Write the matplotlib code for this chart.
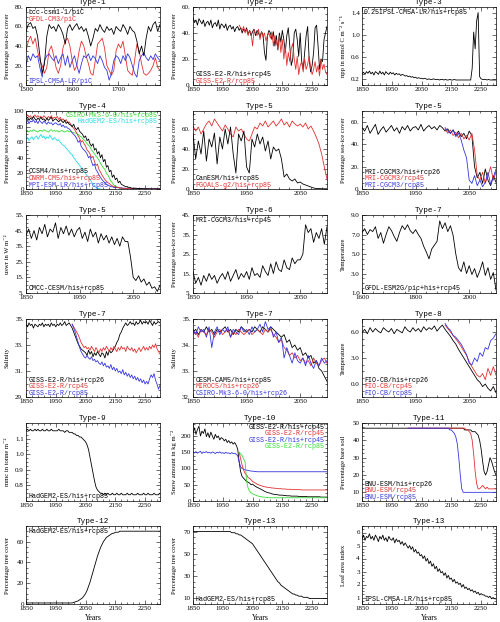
import numpy as np
import matplotlib.pyplot as plt
from matplotlib.ticker import AutoMinorLocator

plt.rcParams['font.family'] = ['Liberation Serif', 'DejaVu Serif']
MONO = ['Liberation Mono', 'DejaVu Sans Mono']

BLACK = '#000000'
RED = '#e23030'
BLUE = '#3535e0'
GREEN = '#33dd33'
CYAN = '#22dde8'

# ---------------- data ----------------
# Type-1 (piC, 1500-1790, 5-yearly)
t1_bcc = [55, 62, 64, 58, 60, 50, 30, 12, 22, 50, 62, 58, 60, 55, 62, 58, 52, 42, 58, 62,
          56, 60, 63, 57, 60, 55, 58, 50, 40, 48, 58, 55, 62, 57, 54, 60, 56, 58, 52, 60,
          57, 55, 62, 58, 52, 60, 56, 54, 45, 32, 40, 30, 48, 60, 55, 62, 65, 55, 62]
t1_gfdl = [35, 45, 50, 42, 48, 35, 25, 20, 12, 18, 35, 40, 30, 18, 12, 20, 38, 45, 48, 40,
           25, 15, 20, 35, 45, 40, 30, 22, 12, 10, 25, 42, 45, 48, 38, 20, 15, 10, 15, 35,
           42, 38, 45, 30, 15, 12, 10, 25, 42, 35, 22, 12, 10, 12, 15, 20, 28, 18, 15]
t1_ipsl = [20, 30, 25, 32, 28, 30, 18, 8, 25, 30, 32, 28, 25, 30, 22, 28, 32, 20, 30, 18,
           25, 30, 20, 12, 22, 30, 28, 32, 25, 30, 27, 22, 30, 25, 18, 15, 5, 12, 25, 30,
           28, 22, 30, 25, 32, 28, 20, 12, 8, 25, 30, 33, 28, 25, 30, 26, 32, 28, 25]

# Type-2 GISS-E2-R (1850-2300 / 2005-2300, 5-yearly)
t2_his45 = [52, 48, 50, 46, 51, 49, 47, 50, 45, 48,
            49, 46, 50, 44, 47, 48, 45, 50, 43, 47,
            46, 44, 47, 42, 45, 46, 43, 45, 41, 44,
            45, 42, 44, 40, 43, 41, 44, 39, 42, 38,
            41, 43, 38, 42, 40, 37, 41, 39, 25, 19,
            38, 42, 40, 35, 41, 30, 38, 27, 40, 33,
            42, 35, 25, 38, 44, 30, 15, 20, 40, 43,
            35, 22, 40, 18, 12, 25, 38, 45, 20, 10,
            15, 25, 44, 46, 30, 12, 20, 18, 35, 40, 45]
t2_rcp85 = [46, 44, 42, 45, 40, 43, 38, 42, 40, 30,
            42, 40, 38, 43, 35, 41, 37, 40, 34, 38,
            40, 36, 41, 30, 38, 33, 28, 38, 25, 35,
            20, 30, 15, 25, 18, 28, 32, 20, 12, 22,
            8, 15, 18, 10, 20, 12, 16, 22, 14, 8,
            12, 18, 10, 15, 7, 20, 12, 16, 10, 8]

# Type-3 IPSL npp (1850-2300)
t3_npp = [0.30, 0.33, 0.29, 0.34, 0.31, 0.35, 0.30, 0.33, 0.28, 0.34,
          0.32, 0.29, 0.35, 0.30, 0.33, 0.28, 0.34, 0.31, 0.29, 0.33,
          0.30, 0.32, 0.28, 0.31, 0.29, 0.30, 0.27, 0.29, 0.28, 0.26,
          0.27, 0.25, 0.26, 0.24, 0.25, 0.23, 0.24, 0.22, 0.23, 0.22,
          0.22, 0.21, 0.22, 0.21, 0.20, 0.21, 0.20, 0.20, 0.21, 0.20,
          0.20, 0.20, 0.19, 0.20, 0.20, 0.19, 0.20, 0.19, 0.19, 0.20,
          0.19, 0.19, 0.20, 0.19, 0.19, 0.19, 0.19, 0.19, 0.19, 0.19,
          0.19, 0.19, 0.19, 0.19, 0.40, 1.05, 0.75, 1.25, 1.40, 0.25,
          0.21, 0.20, 0.20, 0.20, 0.19, 0.20, 0.19, 0.19, 0.19, 0.19, 0.19]

# Type-4 (1850-2300)
t4_ccsm4 = [90, 92, 88, 91, 89, 93, 90, 88, 91, 89,
            92, 89, 90, 87, 91, 88, 90, 92, 87, 89,
            90, 88, 86, 89, 87, 85, 88, 84, 86, 83,
            82, 80, 83, 78, 76, 79, 74, 72, 70, 66,
            68, 62, 64, 58, 55, 58, 50, 52, 45, 48,
            40, 44, 35, 38, 28, 30, 22, 24, 15, 18,
            12, 14, 8, 10, 6, 5, 4, 3, 3, 2,
            2, 1, 1, 1, 1, 0.5, 0.5, 0.5, 0.3, 0.3,
            0.2, 0.2, 0.1, 0.1, 0.1, 0, 0, 0, 0, 0, 0]
t4_cnrm = [93, 95, 92, 94, 91, 93, 95, 92, 94, 92,
           93, 91, 94, 92, 90, 93, 91, 94, 90, 92,
           91, 93, 89, 92, 88, 90, 87, 89, 85, 86,
           83, 80, 78, 75, 72, 68, 65, 60, 62, 58,
           55, 50, 48, 45, 40, 42, 35, 30, 32, 25,
           22, 18, 15, 12, 10, 8, 7, 5, 4, 3,
           3, 2, 2, 1, 1, 1, 1, 0.5, 0.5, 0.5,
           0.3, 0.3, 0.3, 0.2, 0.2, 0.2, 0.1, 0.1, 0.1, 0.1,
           0.1, 0, 0, 0, 0, 0, 0, 0, 0, 0, 0]
t4_mpi = [85, 88, 84, 87, 86, 89, 85, 87, 84, 88,
          86, 84, 87, 85, 83, 86, 84, 85, 82, 84,
          85, 83, 82, 84, 80, 82, 79, 80, 78, 77,
          75, 72, 70, 68, 65, 60, 62, 55, 52, 50,
          48, 45, 40, 42, 35, 30, 32, 25, 22, 18,
          15, 12, 10, 8, 6, 5, 4, 3, 3, 2,
          2, 2, 2, 1.5, 1.5, 1, 1, 1, 1, 1,
          1, 0.8, 0.8, 0.8, 0.7, 0.7, 0.6, 0.6, 0.6, 0.5,
          0.5, 0.5, 0.5, 0.5, 0.5, 0.5, 0.5, 0.5, 0.5, 0.5, 0.5]
t4_csiro = [74, 75, 73, 75, 74, 76, 75, 74, 73, 75,
            75, 74, 76, 75, 74, 73, 75, 76, 74, 75,
            74, 75, 73, 74, 75, 74, 73, 74, 75, 73,
            74, 73, 72, 72, 71, 70, 68, 67, 65, 63,
            61, 58, 56, 54, 50, 48, 45, 42, 40, 37,
            33, 30, 27, 25, 20, 18, 14, 10, 8, 5,
            4, 3, 2, 1, 1, 0.5, 0.3, 0.2, 0.1, 0,
            0, 0, 0, 0, 0, 0, 0, 0, 0, 0,
            0, 0, 0, 0, 0, 0, 0, 0, 0, 0, 0]
t4_hadgem = [64, 66, 62, 65, 67, 63, 66, 68, 64, 67,
             70, 66, 68, 64, 67, 65, 69, 66, 63, 66,
             64, 62, 63, 60, 58, 56, 55, 52, 50, 48,
             45, 44, 40, 38, 35, 33, 30, 28, 25, 22,
             20, 17, 15, 12, 9, 6, 4, 2, 1, 0.5, 0]

# Type-5 (1850-2100)
t5_canesm = [55, 30, 48, 35, 58, 28, 50, 42, 56, 25,
             52, 40, 60, 45, 62, 35, 16, 55, 48, 58,
             22, 16, 50, 42, 55, 45, 52, 38, 48, 30,
             42, 38, 40, 30, 12, 15, 10, 8, 10, 6,
             7, 5, 4, 3, 2, 1, 0.5, 0.5, 0.3, 0.2, 0.2]
t5_fgoals = [63, 58, 62, 55, 60, 65, 68, 63, 70, 66,
             62, 58, 64, 60, 55, 52, 62, 58, 60, 55,
             50, 48, 55, 62, 60, 66, 63, 68, 62, 65,
             68, 63, 66, 70, 64, 67, 62, 68, 65, 63,
             65, 62, 66, 60, 63, 58, 52, 45, 35, 22, 10]
t5_mri26 = [55, 52, 57, 50, 54, 58, 49, 53, 56, 51,
            54, 57, 52, 55, 50, 56, 53, 57, 52, 55,
            56, 53, 58, 52, 55, 57, 54, 56, 53, 57,
            55, 52, 54, 50, 53, 48, 52, 47, 50, 45,
            52, 48, 20, 10, 15, 5, 18, 8, 3, 12, 6]
t5_mri45 = [54, 50, 53, 48, 51, 46, 50, 45, 48, 44, 50, 35, 12, 8, 15, 5, 12, 20, 8, 15]
t5_mri85 = [55, 52, 50, 53, 47, 50, 44, 35, 28, 8, 5, 12, 3, 8, 2, 6, 15, 4, 10, 18]

# Type-5 CMCC-CESM uswr, Type-6 MRI (1850-2100)
t5_uswr = [42, 46, 40, 45, 39, 47, 43, 49, 41, 46,
           44, 50, 40, 47, 43, 48, 42, 46, 41, 45,
           47, 40, 44, 38, 46, 41, 44, 37, 43, 39,
           42, 37, 41, 36, 40, 35, 41, 38, 38, 28,
           15, 13, 16, 12, 14, 10, 12, 8, 9, 6, 10]
t6_mri45 = [16, 10, 13, 9, 14, 11, 15, 12, 14, 10,
            13, 15, 12, 16, 11, 14, 17, 12, 15, 13,
            16, 12, 18, 14, 15, 13, 19, 16, 14, 20,
            15, 21, 17, 16, 22, 18, 17, 23, 20, 22,
            22, 25, 40, 36, 38, 31, 36, 33, 38, 30, 39]

# Type-7 GFDL-ESM2G temperature (1600-2100, 10-yearly)
t7_gfdl = [7.2, 7.6, 7.0, 7.5, 7.3, 7.8, 6.6, 7.2, 6.1, 7.0,
           7.8, 7.4, 6.8, 6.3, 7.2, 7.9, 7.5, 8.0, 7.4, 7.1,
           7.5, 7.0, 6.6, 5.8, 5.2, 4.5, 5.5, 5.9, 6.3, 8.4,
           7.6, 8.2, 7.3, 7.9, 6.9, 5.0, 3.6, 3.2, 4.2, 3.0,
           3.8, 2.9, 3.5, 2.6, 3.3, 4.2, 2.8, 3.6, 2.4, 3.1, 1.3]

# Type-7 GISS-E2-R salinity (1850-2300 / 2005-2300)
t7_giss26 = [34.6, 34.4, 34.7, 34.5, 34.6, 34.3, 34.6, 34.5, 34.4, 34.6,
             34.5, 34.7, 34.4, 34.6, 34.5, 34.6, 34.4, 34.7, 34.5, 34.6,
             34.4, 34.6, 34.5, 34.7, 34.5, 34.6, 34.8, 34.5, 34.6, 34.7,
             34.5, 34.3, 34.0, 33.7, 33.4, 33.1, 32.9, 32.7, 32.6, 32.5,
             32.4, 32.2, 32.6, 32.3, 32.5, 32.1, 32.4, 32.2, 32.5, 32.3,
             32.1, 32.4, 32.3, 32.0, 32.5, 32.2, 32.6, 32.4, 32.5, 32.7,
             32.9, 33.2, 33.4, 33.8, 34.0, 34.3, 34.5, 34.7, 34.5, 34.6,
             34.8, 34.6, 34.7, 34.5, 34.8, 34.6, 34.7, 34.9, 34.6, 34.8,
             34.7, 34.8, 34.6, 34.9, 34.7, 34.5, 34.8, 34.6, 34.7, 34.8, 34.7]
t7_giss45 = [34.6, 34.4, 34.2, 34.0, 33.8, 33.5, 33.2, 33.0, 32.8, 32.9,
             32.7, 32.8, 32.6, 32.9, 32.7, 32.5, 32.8, 32.6, 32.4, 32.7,
             32.5, 32.8, 32.6, 32.9, 32.7, 32.5, 32.8, 32.6, 32.9, 32.7,
             32.5, 32.8, 32.6, 32.9, 32.7, 32.8, 32.5, 32.9, 32.7, 32.6,
             32.8, 32.5, 32.7, 32.4, 32.6, 32.8, 32.5, 32.7, 32.9, 32.6,
             32.8, 32.6, 32.9, 32.7, 33.0, 32.8, 33.1, 32.7, 32.5, 32.3]
t7_giss85 = [34.6, 34.3, 34.0, 33.6, 33.2, 32.8, 32.5, 32.3, 32.1, 32.0,
             32.2, 32.0, 31.9, 32.1, 31.8, 31.9, 31.7, 31.8, 31.6, 31.5,
             31.7, 31.4, 31.6, 31.3, 31.4, 31.2, 31.5, 31.1, 31.3, 31.0,
             31.2, 30.9, 31.0, 30.8, 31.1, 30.7, 30.9, 30.6, 30.8, 30.5,
             30.7, 30.4, 30.6, 30.3, 30.5, 30.2, 30.4, 30.1, 30.3, 30.0,
             30.2, 30.0, 30.4, 30.7, 30.5, 30.8, 30.3, 30.0, 29.6, 29.9]

# Type-7 salinity, three models (1850-2100)
t7_cesm = [34.5, 34.6, 34.4, 34.6, 34.5, 34.7, 34.5, 34.6, 34.4, 34.6,
           34.5, 34.6, 34.7, 34.5, 34.6, 34.4, 34.6, 34.5, 34.7, 34.6,
           34.5, 34.6, 34.5, 34.7, 34.6, 34.5, 34.7, 34.6, 34.5, 34.7,
           34.6, 34.5, 34.4, 34.3, 34.4, 34.1, 34.2, 33.9, 34.0, 33.8,
           33.9, 33.6, 33.7, 33.5, 33.6, 33.3, 33.4, 33.1, 33.0, 32.8, 32.6]
t7_miroc = [34.4, 34.5, 34.3, 34.6, 34.5, 34.4, 34.6, 34.5, 34.3, 34.5,
            34.6, 34.4, 34.5, 34.6, 34.3, 34.5, 34.4, 34.6, 34.5, 34.4,
            34.5, 34.6, 34.4, 34.5, 34.6, 34.5, 34.4, 34.6, 34.5, 34.6,
            34.4, 34.3, 34.1, 34.2, 33.9, 33.8, 33.6, 33.7, 33.5, 33.6,
            33.4, 33.5, 33.3, 33.4, 33.2, 33.5, 33.3, 33.2, 33.4, 33.5, 33.3]
t7_csiro = [34.6, 34.4, 34.7, 34.5, 34.6, 34.3, 34.7, 33.9, 34.5, 34.7,
            34.4, 34.6, 34.5, 34.7, 34.3, 34.6, 34.5, 34.4, 34.7, 34.5,
            34.6, 34.4, 34.7, 34.5, 34.6, 34.8, 34.5, 34.9, 34.6, 34.7,
            34.3, 34.5, 34.1, 34.3, 33.5, 33.9, 33.6, 33.3, 33.7, 33.4,
            33.3, 33.5, 33.2, 33.6, 33.3, 33.1, 33.4, 33.2, 33.5, 33.3, 33.4]

# Type-8 FIO-CB temperature (1850-2100 / 2005-2100)
t8_fio26 = [5.9, 6.3, 5.8, 6.5, 6.0, 6.4, 6.1, 5.9, 6.5, 6.2,
            6.0, 6.4, 5.8, 6.3, 6.1, 5.9, 6.6, 6.2, 6.0, 6.5,
            6.1, 6.4, 6.0, 6.6, 6.2, 6.5, 6.3, 6.7, 6.1, 6.5,
            6.8, 6.3, 5.9, 5.5, 5.0, 4.6, 4.0, 3.5, 3.0, 2.5,
            2.0, 1.5, 1.0, 0.5, 0.2, -0.3, 0.0, -0.5, -0.8, -0.3, -1.0]
t8_fio45 = [6.8, 6.4, 6.0, 5.6, 5.2, 4.8, 4.3, 3.8, 3.3, 2.6,
            2.0, 1.5, 1.0, 0.8, 1.2, 0.5, 1.8, 1.0, 2.0, 1.0]
t8_fio85 = [7.0, 6.5, 6.2, 5.6, 5.4, 5.0, 4.6, 4.0, 3.4, 2.4,
            2.2, 3.0, 2.6, 3.6, 3.2, 4.2, 4.0, 5.0, 5.3, 5.8]

# Type-9 HadGEM2-ES (1850-2300)
t9_had = [1.15, 1.16, 1.15, 1.16, 1.15, 1.15, 1.16, 1.15, 1.16, 1.15,
          1.15, 1.16, 1.15, 1.15, 1.16, 1.15, 1.15, 1.16, 1.15, 1.15,
          1.15, 1.15, 1.16, 1.15, 1.15, 1.15, 1.14, 1.15, 1.15, 1.14,
          1.14, 1.14, 1.13, 1.13, 1.12, 1.12, 1.11, 1.11, 1.10, 1.09,
          1.08, 1.06, 1.03, 0.98, 0.93, 0.88, 0.83, 0.79, 0.77, 0.76,
          0.75, 0.75, 0.74, 0.75, 0.74, 0.75, 0.74, 0.74, 0.75, 0.74,
          0.74, 0.75, 0.74, 0.74, 0.75, 0.74, 0.74, 0.74, 0.75, 0.74,
          0.74, 0.75, 0.74, 0.74, 0.74, 0.75, 0.74, 0.74, 0.74, 0.75,
          0.74, 0.74, 0.75, 0.74, 0.74, 0.74, 0.75, 0.74, 0.74, 0.74, 0.75]

# Type-10 GISS-E2-R snow (1850-2300 / 2005-2300)
t10_his26 = [210, 225, 205, 220, 230, 200, 215, 208, 222, 198,
             210, 195, 212, 200, 190, 205, 195, 200, 188, 195,
             192, 185, 190, 180, 186, 178, 182, 175, 180, 172,
             160, 120, 90, 75, 70, 65, 60, 58, 55, 50,
             52, 48, 45, 42, 40, 38, 35, 33, 30, 28,
             26, 25, 24, 22, 21, 20, 20, 19, 18, 18,
             18, 17, 17, 16, 16, 16, 15, 15, 15, 15,
             15, 14, 14, 14, 14, 14, 14, 13, 13, 13,
             13, 13, 13, 13, 13, 13, 12, 12, 12, 12, 12]
t10_rcp45 = [150, 130, 110, 95, 85, 80, 72, 70, 65, 60,
             58, 55, 52, 50, 48, 47, 45, 44, 43, 42,
             42, 41, 40, 40, 39, 39, 38, 38, 38, 37,
             37, 37, 36, 36, 36, 36, 35, 35, 35, 35,
             35, 35, 34, 34, 34, 34, 34, 34, 34, 34,
             34, 34, 34, 34, 34, 34, 34, 34, 34, 34]
t10_his45 = [150, 148, 152, 147, 150, 153, 146, 151, 149, 152,
             148, 150, 147, 151, 149, 146, 150, 148, 151, 147,
             149, 146, 150, 147, 148, 145, 149, 146, 147, 144,
             140, 120, 105, 100, 98, 96, 95, 94, 93, 92,
             92, 91, 91, 90, 90, 90, 90, 90, 90, 90,
             90, 90, 90, 90, 90, 90, 90, 90, 90, 90,
             90, 90, 90, 90, 90, 90, 90, 90, 90, 90,
             90, 90, 90, 90, 90, 90, 90, 90, 90, 90,
             90, 90, 90, 90, 90, 90, 90, 90, 90, 90, 90]
t10_rcp85 = [150, 145, 140, 130, 120, 60, 40, 30, 25, 22,
             20, 18, 16, 15, 14, 13, 12, 12, 11, 11,
             10, 10, 10, 10, 10, 10, 10, 10, 10, 10,
             10, 10, 10, 10, 10, 10, 10, 10, 10, 10,
             10, 10, 10, 10, 10, 10, 10, 10, 10, 10,
             10, 10, 10, 10, 10, 10, 10, 10, 10, 10]

# Type-11 BNU-ESM bare soil (1850-2300 / 2005-2300)
t11_his26 = [47, 47, 47, 47, 47, 47, 47, 47, 47, 47,
             47, 47, 47, 47, 47, 47, 47, 47, 47, 47,
             47, 47, 47, 47, 47, 47, 47, 47, 47, 47,
             47, 47, 47, 47, 47, 47, 47, 47, 47, 47,
             47, 47, 47, 47, 47, 47, 47, 47, 47, 47,
             47, 47, 47, 47, 47, 47, 47, 47, 47, 47,
             47, 47, 47, 47, 47, 47, 47, 47, 47, 46,
             46, 46, 46, 46, 45, 45, 45, 44, 43, 40,
             35, 28, 22, 20, 22, 26, 30, 28, 25, 22, 20]
t11_rcp45 = [47, 47, 47, 47, 47, 47, 47, 47, 47, 47,
             47, 47, 47, 47, 47, 47, 47, 47, 47, 47,
             47, 47, 47, 47, 47, 47, 47, 47, 47, 47,
             47, 47, 47, 47, 47, 47, 47, 47, 47, 46,
             46, 45, 44, 40, 32, 22, 15, 12, 12, 13,
             14, 13, 12, 13, 12, 12, 12, 12, 12, 12]
t11_rcp85 = [47, 47, 47, 47, 47, 47, 47, 47, 47, 47,
             47, 47, 47, 47, 47, 47, 47, 47, 47, 47,
             47, 47, 47, 47, 47, 47, 47, 47, 46, 46,
             45, 44, 42, 38, 30, 20, 12, 10, 10, 10,
             10, 10, 10, 10, 10, 10, 10, 10, 10, 10,
             10, 10, 10, 10, 10, 10, 10, 10, 10, 10]

# Type-12 and Type-13 HadGEM2-ES tree cover, Type-13 IPSL LAI (1850-2300)
t12_tree = [1, 1, 1, 1, 1, 1, 1, 1, 1, 1,
            1, 1, 1, 1, 1, 1, 1, 1, 1, 1,
            1, 1, 1, 1, 1, 1, 1, 1, 1, 1,
            1, 1, 1.5, 2, 2.5, 3, 4, 5, 6, 8,
            10, 13, 17, 21, 26, 31, 36, 41, 46, 50,
            54, 57, 60, 62, 64, 65, 66, 67, 68, 68,
            69, 69, 69, 70, 70, 70, 70, 70, 70, 70,
            70, 70, 70, 70, 70, 70, 70, 70, 70, 70,
            70, 70, 70, 70, 70, 70, 70, 70, 70, 70, 70]
t13_tree = [70, 70, 70, 70, 70, 70, 70, 70, 70, 70,
            70, 70, 70, 70, 70, 70, 70, 70, 70, 70,
            70, 70, 70, 70, 70, 70, 69, 69, 69, 68,
            68, 67, 67, 66, 65, 64, 63, 62, 61, 60,
            59, 57, 55, 53, 51, 49, 47, 45, 43, 41,
            39, 37, 35, 33, 31, 29, 27, 25, 24, 22,
            21, 20, 19, 18, 17, 16, 15, 14, 14, 13,
            13, 12, 12, 12, 11, 11, 11, 11, 10, 10,
            10, 10, 10, 10, 10, 10, 10, 10, 10, 10, 10]
t13_lai = [5.5, 5.8, 5.4, 5.7, 5.6, 5.9, 5.5, 5.7, 5.4, 5.8,
           5.6, 5.3, 5.7, 5.5, 5.8, 5.4, 5.6, 5.3, 5.7, 5.5,
           5.4, 5.6, 5.2, 5.5, 5.3, 5.4, 5.1, 5.3, 5.0, 5.2,
           5.0, 4.8, 5.0, 4.7, 4.9, 4.5, 4.7, 4.4, 4.5, 4.2,
           4.3, 4.0, 4.2, 3.8, 4.0, 3.6, 3.8, 3.4, 3.6, 3.2,
           3.4, 3.0, 3.2, 2.9, 3.0, 2.7, 2.9, 2.5, 2.7, 2.4,
           2.5, 2.2, 2.4, 2.1, 2.2, 2.0, 2.1, 1.8, 2.0, 1.7,
           1.8, 1.6, 1.7, 1.5, 1.6, 1.4, 1.5, 1.3, 1.4, 1.2,
           1.3, 1.2, 1.2, 1.1, 1.1, 1.0, 1.1, 0.9, 1.0, 0.9, 0.9]


def years(start, vals, step=5):
    return start + step * np.arange(len(vals))


fig = plt.figure(figsize=(5, 6.22), dpi=100)
W, H = 500.0, 622.0
col_left = [26, 193, 362]
row_top = [7, 111, 215, 319, 423, 526]
AW, AH = 134, 78

yr_ticks = [1850, 1950, 2050, 2150, 2250]


def panel(r, c, title, xlim, xticks, ylim, yticks, yticklabels, ylabel, xlabel=False):
    ax = fig.add_axes([col_left[c] / W, 1 - (row_top[r] + AH) / H, AW / W, AH / H])
    ax.set_xlim(*xlim)
    ax.set_ylim(*ylim)
    ax.set_xticks(xticks)
    ax.set_xticklabels([str(v) for v in xticks])
    ax.set_yticks(yticks)
    ax.set_yticklabels(yticklabels)
    ax.xaxis.set_minor_locator(AutoMinorLocator(5))
    ax.yaxis.set_minor_locator(AutoMinorLocator(4))
    ax.tick_params(which='both', direction='in', top=True, right=True, width=0.4,
                   labelsize=5, pad=1.5)
    ax.tick_params(which='major', length=3)
    ax.tick_params(which='minor', length=1.5)
    for s in ax.spines.values():
        s.set_linewidth(0.5)
    ax.set_title(title, fontsize=5.5, pad=2, family=MONO)
    ax.set_ylabel(ylabel, fontsize=4.8)
    ax.yaxis.set_label_coords(-0.12, 0.5)
    if xlabel:
        ax.set_xlabel('Years', fontsize=5.5, labelpad=2)
    return ax


def tag(ax, x, y, s, color, ha='left'):
    ax.text(x, y, s, color=color, fontsize=4.8, family=MONO, ha=ha, va='center',
            transform=ax.transAxes)


def line(ax, x, y, color):
    ax.plot(x, y, color=color, lw=0.6)


# row 1
ax = panel(0, 0, 'Type-1', (1500, 1790), [1500, 1600, 1700], (0, 80),
           [0, 20, 40, 60, 80], ['0.', '20.', '40.', '60.', '80.'], 'Percentage sea-ice cover')
line(ax, years(1500, t1_gfdl), t1_gfdl, RED)
line(ax, years(1500, t1_ipsl), t1_ipsl, BLUE)
line(ax, years(1500, t1_bcc), t1_bcc, BLACK)
tag(ax, 0.02, 0.93, 'bcc-csm1-1/piC', BLACK)
tag(ax, 0.02, 0.84, 'GFDL-CM3/piC', RED)
tag(ax, 0.02, 0.05, 'IPSL-CM5A-LR/piC', BLUE)

ax = panel(0, 1, 'Type-2', (1850, 2300), yr_ticks, (0, 60),
           [0, 20, 40, 60], ['0.', '20.', '40.', '60.'], 'Percentage sea-ice cover')
line(ax, years(1850, t2_his45), t2_his45, BLACK)
line(ax, years(2005, t2_rcp85), t2_rcp85, RED)
tag(ax, 0.02, 0.14, 'GISS-E2-R/his+rcp45', BLACK)
tag(ax, 0.02, 0.05, 'GISS-E2-R/rcp85', RED)

ax = panel(0, 2, 'Type-3', (1850, 2300), yr_ticks, (0.1, 1.5),
           [0.2, 0.6, 1.0, 1.4], ['0.2', '0.6', '1.0', '1.4'],
           'npp in mmol C m⁻² s⁻¹')
line(ax, years(1850, t3_npp), t3_npp, BLACK)
tag(ax, 0.01, 0.93, '0.25IPSL-CM5A-LR/his+rcp85', BLACK)

# row 2
ax = panel(1, 0, 'Type-4', (1850, 2300), yr_ticks, (0, 100),
           [0, 20, 40, 60, 80, 100], ['0', '20', '40', '60', '80', '100'],
           'Percentage sea-ice cover')
line(ax, years(1850, t4_hadgem), t4_hadgem, CYAN)
line(ax, years(1850, t4_csiro), t4_csiro, GREEN)
line(ax, years(1850, t4_mpi), t4_mpi, BLUE)
line(ax, years(1850, t4_cnrm), t4_cnrm, RED)
line(ax, years(1850, t4_ccsm4), t4_ccsm4, BLACK)
tag(ax, 0.98, 0.94, 'CSIRO-Mk3-6-0/his+rcp85', GREEN, ha='right')
tag(ax, 0.98, 0.86, 'HadGEM2-ES/his+rcp85', CYAN, ha='right')
tag(ax, 0.02, 0.22, 'CCSM4/his+rcp85', BLACK)
tag(ax, 0.02, 0.13, 'CNRM-CM5/his+rcp85', RED)
tag(ax, 0.02, 0.04, 'MPI-ESM-LR/his+rcp85', BLUE)

ax = panel(1, 1, 'Type-5', (1850, 2100), [1850, 1950, 2050], (0, 78),
           [0, 20, 40, 60], ['0.', '20.', '40.', '60.'], 'Percentage sea-ice cover')
line(ax, years(1850, t5_fgoals), t5_fgoals, RED)
line(ax, years(1850, t5_canesm), t5_canesm, BLACK)
tag(ax, 0.02, 0.13, 'CanESM/his+rcp85', BLACK)
tag(ax, 0.02, 0.05, 'FGOALS-g2/his+rcp85', RED)

ax = panel(1, 2, 'Type-5', (1850, 2100), [1850, 1950, 2050], (0, 70),
           [0, 20, 40, 60], ['0.', '20.', '40.', '60.'], 'Percentage sea-ice cover')
line(ax, years(1850, t5_mri26), t5_mri26, BLACK)
line(ax, years(2005, t5_mri45), t5_mri45, RED)
line(ax, years(2005, t5_mri85), t5_mri85, BLUE)
tag(ax, 0.02, 0.21, 'MRI-CGCM3/his+rcp26', BLACK)
tag(ax, 0.02, 0.13, 'MRI-CGCM3/rcp45', RED)
tag(ax, 0.02, 0.05, 'MRI-CGCM3/rcp85', BLUE)

# row 3
ax = panel(2, 0, 'Type-5', (1850, 2100), [1850, 1950, 2050], (5, 55),
           [5, 15, 25, 35, 45, 55], ['5.', '15.', '25.', '35.', '45.', '55.'],
           'uswr in W m⁻²')
line(ax, years(1850, t5_uswr), t5_uswr, BLACK)
tag(ax, 0.02, 0.06, 'CMCC-CESM/his+rcp85', BLACK)

ax = panel(2, 1, 'Type-6', (1850, 2100), [1850, 1950, 2050], (5, 45),
           [5, 15, 25, 35, 45], ['5.', '15.', '25.', '35.', '45.'], 'Percentage sea-ice cover')
line(ax, years(1850, t6_mri45), t6_mri45, BLACK)
tag(ax, 0.02, 0.93, 'MRI-CGCM3/his+rcp45', BLACK)

ax = panel(2, 2, 'Type-7', (1600, 2100), [1600, 1800, 2000], (1, 9),
           [1, 3, 5, 7, 9], ['1.0', '3.0', '5.0', '7.0', '9.0'], 'Temperature')
line(ax, years(1600, t7_gfdl, 10), t7_gfdl, BLACK)
tag(ax, 0.02, 0.06, 'GFDL-ESM2G/pic+his+rcp45', BLACK)

# row 4
ax = panel(3, 0, 'Type-7', (1850, 2300), yr_ticks, (29, 35),
           [29, 31, 33, 35], ['29.', '31.', '33.', '35.'], 'Salinity')
line(ax, years(1850, t7_giss26), t7_giss26, BLACK)
line(ax, years(2005, t7_giss45), t7_giss45, RED)
line(ax, years(2005, t7_giss85), t7_giss85, BLUE)
tag(ax, 0.02, 0.21, 'GISS-E2-R/his+rcp26', BLACK)
tag(ax, 0.02, 0.13, 'GISS-E2-R/rcp45', RED)
tag(ax, 0.02, 0.05, 'GISS-E2-R/rcp85', BLUE)

ax = panel(3, 1, 'Type-7', (1850, 2100), [1850, 1950, 2050], (32, 35),
           [32, 33, 34, 35], ['32.', '33.', '34.', '35.'], 'Salinity')
line(ax, years(1850, t7_cesm), t7_cesm, BLACK)
line(ax, years(1850, t7_miroc), t7_miroc, RED)
line(ax, years(1850, t7_csiro), t7_csiro, BLUE)
tag(ax, 0.02, 0.21, 'CESM-CAM5/his+rcp85', BLACK)
tag(ax, 0.02, 0.13, 'MIROC5/his+rcp26', RED)
tag(ax, 0.02, 0.05, 'CSIRO-Mk3-6-0/his+rcp26', BLUE)

ax = panel(3, 2, 'Type-8', (1850, 2100), [1850, 1950, 2050], (-1.5, 7.5),
           [0, 3, 6], ['0.0', '3.0', '6.0'], 'Temperature')
line(ax, years(1850, t8_fio26), t8_fio26, BLACK)
line(ax, years(2005, t8_fio45), t8_fio45, RED)
line(ax, years(2005, t8_fio85), t8_fio85, BLUE)
tag(ax, 0.02, 0.21, 'FIO-CB/his+rcp26', BLACK)
tag(ax, 0.02, 0.13, 'FIO-CB/rcp45', RED)
tag(ax, 0.02, 0.05, 'FIO-CB/rcp85', BLUE)

# row 5
ax = panel(4, 0, 'Type-9', (1850, 2300), yr_ticks, (0.7, 1.2),
           [0.8, 0.9, 1.0, 1.1], ['0.8', '0.9', '1.0', '1.1'], 'mmc in tonne m⁻²')
line(ax, years(1850, t9_had), t9_had, BLACK)
tag(ax, 0.02, 0.06, 'HadGEM2-ES/his+rcp85', BLACK)

ax = panel(4, 1, 'Type-10', (1850, 2300), yr_ticks, (0, 240),
           [0, 50, 100, 150, 200], ['0', '50', '100', '150', '200'], 'Snow amount in kg m⁻²')
line(ax, years(1850, t10_his26), t10_his26, BLACK)
line(ax, years(1850, t10_his45), t10_his45, BLUE)
line(ax, years(2005, t10_rcp45), t10_rcp45, RED)
line(ax, years(2005, t10_rcp85), t10_rcp85, GREEN)
tag(ax, 0.98, 0.94, 'GISS-E2-R/his+rcp45', BLACK, ha='right')
tag(ax, 0.98, 0.86, 'GISS-E2-R/rcp45', RED, ha='right')
tag(ax, 0.98, 0.78, 'GISS-E2-R/his+rcp45', BLUE, ha='right')
tag(ax, 0.98, 0.70, 'GISS-E2-R/rcp85', GREEN, ha='right')

ax = panel(4, 2, 'Type-11', (1850, 2300), yr_ticks, (5, 50),
           [10, 20, 30, 40, 50], ['10', '20', '30', '40', '50'], 'Percentage bare soil')
line(ax, years(1850, t11_his26), t11_his26, BLACK)
line(ax, years(2005, t11_rcp45), t11_rcp45, RED)
line(ax, years(2005, t11_rcp85), t11_rcp85, BLUE)
tag(ax, 0.02, 0.21, 'BNU-ESM/his+rcp26', BLACK)
tag(ax, 0.02, 0.13, 'BNU-ESM/rcp45', RED)
tag(ax, 0.02, 0.05, 'BNU-ESM/rcp85', BLUE)

# row 6
ax = panel(5, 0, 'Type-12', (1850, 2300), yr_ticks, (0, 75),
           [0, 20, 40, 60], ['0', '20', '40', '60'], 'Percentage tree cover', xlabel=True)
line(ax, years(1850, t12_tree), t12_tree, BLACK)
tag(ax, 0.02, 0.93, 'HadGEM2-ES/his+rcp85', BLACK)

ax = panel(5, 1, 'Type-13', (1850, 2300), yr_ticks, (5, 75),
           [10, 30, 50, 70], ['10', '30', '50', '70'], 'Percentage tree cover', xlabel=True)
line(ax, years(1850, t13_tree), t13_tree, BLACK)
tag(ax, 0.02, 0.06, 'HadGEM2-ES/his+rcp85', BLACK)

ax = panel(5, 2, 'Type-13', (1850, 2300), yr_ticks, (0.5, 6.5),
           [1, 2, 3, 4, 5, 6], ['1', '2', '3', '4', '5', '6'], 'Leaf area index', xlabel=True)
line(ax, years(1850, t13_lai), t13_lai, BLACK)
tag(ax, 0.02, 0.06, 'IPSL-CM5A-LR/his+rcp85', BLACK)

fig.savefig('out.png', dpi=100)
